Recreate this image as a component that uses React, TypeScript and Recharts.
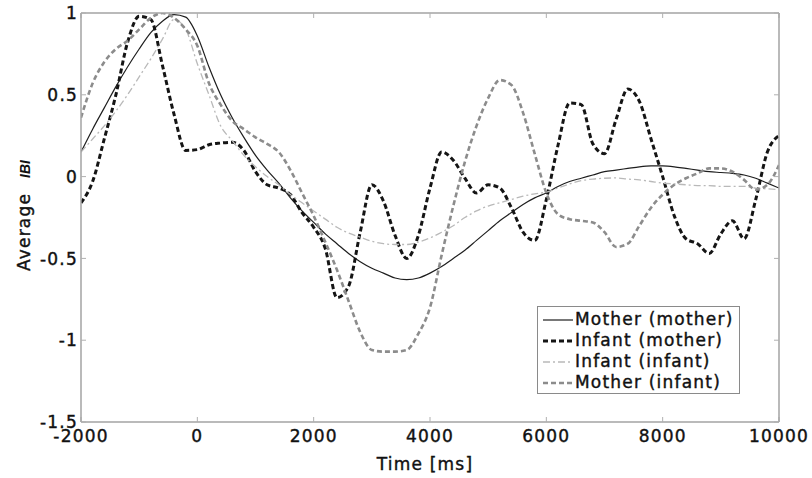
import React from "react";
import { Legend, Line, LineChart, XAxis, YAxis } from "recharts";

// time axis (ms), one sample every 200 ms
const times = [
  -2000, -1800, -1600, -1400, -1200, -1000, -800, -600, -400, -200,
  0, 200, 400, 600, 800, 1000, 1200, 1400, 1600, 1800,
  2000, 2200, 2400, 2600, 2800, 3000, 3200, 3400, 3600, 3800,
  4000, 4200, 4400, 4600, 4800, 5000, 5200, 5400, 5600, 5800,
  6000, 6200, 6400, 6600, 6800, 7000, 7200, 7400, 7600, 7800,
  8000, 8200, 8400, 8600, 8800, 9000, 9200, 9400, 9600, 9800,
  10000,
];

const motherMother = [
  0.15, 0.29, 0.42, 0.55, 0.67, 0.78, 0.88, 0.95, 0.99, 0.975,
  0.86, 0.67, 0.5, 0.36, 0.24, 0.13, 0.04, -0.04, -0.13, -0.21,
  -0.28, -0.35, -0.41, -0.47, -0.52, -0.56, -0.59, -0.62, -0.63, -0.62,
  -0.59, -0.55, -0.5, -0.45, -0.39, -0.33, -0.27, -0.22, -0.17, -0.13,
  -0.1, -0.06, -0.03, -0.01, 0.01, 0.03, 0.04, 0.05, 0.06, 0.065,
  0.065, 0.06, 0.05, 0.04, 0.03, 0.025, 0.02, 0.01, -0.01, -0.04,
  -0.07,
];

const infantMother = [
  -0.16, -0.03, 0.23, 0.5, 0.82, 0.98, 0.96, 0.68, 0.38, 0.16,
  0.165, 0.195, 0.205, 0.21, 0.16, 0.03, -0.05, -0.07, -0.11, -0.22,
  -0.31, -0.44, -0.74, -0.67, -0.34, -0.05, -0.15, -0.36, -0.5, -0.36,
  -0.07, 0.15, 0.1, -0.01, -0.1, -0.05, -0.07, -0.19, -0.34, -0.39,
  -0.14, 0.19, 0.45, 0.44, 0.2, 0.14, 0.35, 0.535, 0.46, 0.23,
  0.0, -0.24, -0.38, -0.41, -0.47, -0.35, -0.27, -0.38, -0.14, 0.15,
  0.25,
];

const infantInfant = [
  0.15, 0.23, 0.31, 0.4, 0.5, 0.61, 0.72, 0.84, 0.96, 0.9,
  0.69, 0.5, 0.31, 0.22, 0.13, 0.06, 0.0, -0.05, -0.11, -0.16,
  -0.21, -0.26, -0.31, -0.345, -0.37, -0.395, -0.41, -0.415, -0.415, -0.4,
  -0.375, -0.34, -0.3, -0.25, -0.21, -0.18, -0.16, -0.14, -0.12, -0.105,
  -0.095, -0.07, -0.045, -0.025, -0.015, -0.01, -0.008, -0.015, -0.02, -0.03,
  -0.04, -0.045, -0.05, -0.055, -0.055, -0.06, -0.06, -0.06, -0.07, -0.075,
  -0.08,
];

const motherInfant = [
  0.36, 0.57, 0.7, 0.78, 0.83, 0.9, 0.97, 1.0, 0.97, 0.9,
  0.8, 0.57, 0.44, 0.34, 0.29, 0.24, 0.2, 0.15, 0.04, -0.1,
  -0.24, -0.4, -0.57, -0.76, -0.95, -1.06, -1.07, -1.07, -1.06, -0.96,
  -0.8, -0.48, -0.18, 0.09, 0.31, 0.48, 0.59, 0.56, 0.39, 0.14,
  -0.1, -0.23, -0.26, -0.27, -0.28, -0.34, -0.43, -0.41, -0.3, -0.19,
  -0.11, -0.05, -0.01, 0.02, 0.05, 0.05, 0.03, -0.02, -0.08, -0.05,
  0.07,
];

const xTicks = [-2000, 0, 2000, 4000, 6000, 8000, 10000];
const yTicks = [-1.5, -1, -0.5, 0, 0.5, 1];

const data = times.map((t, i) => ({
  t,
  motherMother: motherMother[i],
  infantMother: infantMother[i],
  infantInfant: infantInfant[i],
  motherInfant: motherInfant[i],
}));

const series = [
  { key: "motherMother", name: "Mother (mother)", color: "#1e1e1e", width: 1.2, dash: undefined },
  { key: "infantMother", name: "Infant (mother)", color: "#151515", width: 3, dash: "5 3" },
  { key: "infantInfant", name: "Infant (infant)", color: "#b9b9b9", width: 1.3, dash: "7 3 2 3" },
  { key: "motherInfant", name: "Mother (infant)", color: "#8c8c8c", width: 2.6, dash: "5 3" },
];

const AXIS = "#a3a3a3";
const TICK = "#b0b0b0";
const FONT = "'DejaVu Sans', sans-serif";
// a hair of stroke so the labels look as heavy as the scanned ones
const textStyle = { fontFamily: FONT, fontSize: 17, letterSpacing: 1.2 };

const XTick = ({ x, y, payload }: any) => (
  <text x={x} y={y + 20} textAnchor="middle" fill="#111" stroke="#111" strokeWidth={0.4} style={textStyle}>
    {payload.value}
  </text>
);

const YTick = ({ x, y, payload }: any) => (
  <text x={x - 3} y={y} dy="0.36em" textAnchor="end" fill="#111" stroke="#111" strokeWidth={0.4} style={textStyle}>
    {payload.value}
  </text>
);

const noTick = () => <g />;

const renderLegend = () => (
  <div
    style={{
      width: 203,
      height: 88,
      boxSizing: "border-box",
      border: "1px solid #8a8a8a",
      background: "#fff",
      padding: "2px 0 0 5px",
    }}
  >
    {series.map((s) => (
      <div key={s.key} style={{ display: "flex", alignItems: "center", height: 21 }}>
        <svg width={30} height={8} style={{ display: "block" }}>
          <line x1={0} y1={4} x2={30} y2={4} stroke={s.color} strokeWidth={s.width} strokeDasharray={s.dash} />
        </svg>
        <span
          style={{
            ...textStyle,
            marginLeft: 2,
            color: "#111",
            lineHeight: "21px",
            WebkitTextStroke: "0.4px #111",
          }}
        >
          {s.name}
        </span>
      </div>
    ))}
  </div>
);

const xLabel = () => (
  <text x={425} y={470} textAnchor="middle" fill="#111" stroke="#111" strokeWidth={0.4} style={textStyle}>
    Time [ms]
  </text>
);

const yLabel = () => (
  <g>
    <text
      x={30}
      y={232}
      transform="rotate(-90, 30, 232)"
      textAnchor="middle"
      fill="#111"
      stroke="#111"
      strokeWidth={0.4}
      style={textStyle}
    >
      Average
    </text>
    <text
      x={30}
      y={169}
      transform="rotate(-90, 30, 169)"
      textAnchor="middle"
      fill="#111"
      style={{ fontFamily: "'Liberation Sans', sans-serif", fontSize: 14, fontStyle: "italic", fontWeight: "bold" }}
    >
      IBI
    </text>
  </g>
);

export default function App() {
  return (
    <div style={{ position: "absolute", left: 0, top: 0, width: 812, height: 478, background: "#fff" }}>
      <LineChart width={812} height={478} data={data} margin={{ top: 13, right: 33, left: 21, bottom: 26 }}>
        <XAxis
          xAxisId="main"
          type="number"
          dataKey="t"
          domain={[-2000, 10000]}
          ticks={xTicks}
          interval={0}
          allowDataOverflow
          height={30}
          tickLine={false}
          tickSize={0}
          tickMargin={0}
          axisLine={{ stroke: AXIS, strokeWidth: 1.5 }}
          tick={<XTick />}
          label={{ content: xLabel }}
        />
        <XAxis
          xAxisId="bottomTicks"
          orientation="bottom"
          mirror
          type="number"
          dataKey="t"
          domain={[-2000, 10000]}
          ticks={xTicks}
          interval={0}
          allowDataOverflow
          tickSize={5}
          tickLine={{ stroke: TICK }}
          axisLine={false}
          tick={noTick}
        />
        <XAxis
          xAxisId="top"
          orientation="top"
          mirror
          type="number"
          dataKey="t"
          domain={[-2000, 10000]}
          ticks={xTicks}
          interval={0}
          allowDataOverflow
          tickSize={5}
          tickLine={{ stroke: TICK }}
          axisLine={{ stroke: AXIS, strokeWidth: 1.5 }}
          tick={noTick}
        />
        <YAxis
          yAxisId="main"
          type="number"
          domain={[-1.5, 1]}
          ticks={yTicks}
          interval={0}
          allowDataOverflow
          width={60}
          tickLine={false}
          tickSize={0}
          tickMargin={0}
          axisLine={{ stroke: AXIS, strokeWidth: 1.5 }}
          tick={<YTick />}
          label={{ content: yLabel }}
        />
        <YAxis
          yAxisId="leftTicks"
          orientation="left"
          mirror
          type="number"
          domain={[-1.5, 1]}
          ticks={yTicks}
          interval={0}
          allowDataOverflow
          tickSize={5}
          tickLine={{ stroke: TICK }}
          axisLine={false}
          tick={noTick}
        />
        <YAxis
          yAxisId="right"
          orientation="right"
          mirror
          type="number"
          domain={[-1.5, 1]}
          ticks={yTicks}
          interval={0}
          allowDataOverflow
          tickSize={5}
          tickLine={{ stroke: TICK }}
          axisLine={{ stroke: AXIS, strokeWidth: 1.5 }}
          tick={noTick}
        />
        {series.map((s) => (
          <Line
            key={s.key}
            xAxisId="main"
            yAxisId="main"
            dataKey={s.key}
            name={s.name}
            type="monotone"
            stroke={s.color}
            strokeWidth={s.width}
            strokeDasharray={s.dash}
            dot={false}
            activeDot={false}
            isAnimationActive={false}
          />
        ))}
        <Legend
          layout="vertical"
          align="center"
          verticalAlign="middle"
          content={renderLegend}
          wrapperStyle={{ left: 537, top: 306, width: 203, height: 88 }}
        />
      </LineChart>
    </div>
  );
}
